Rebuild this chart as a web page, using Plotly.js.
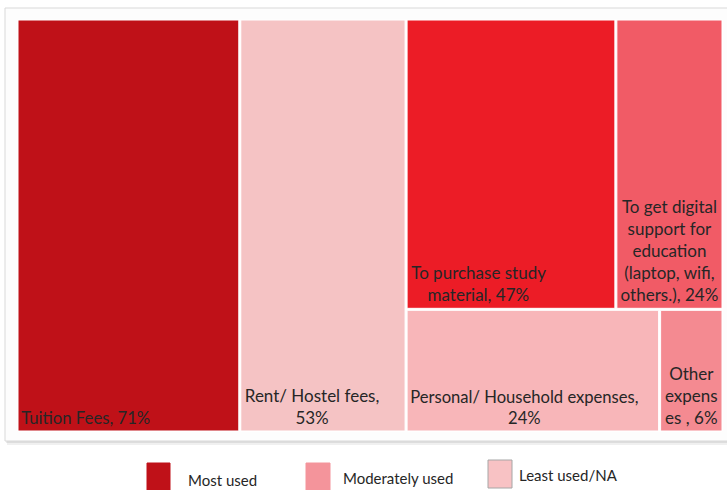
<!DOCTYPE html>
<html>
<head>
<meta charset="utf-8">
<script src="https://cdn.plot.ly/plotly-3.0.1.min.js"></script>
<style>html,body{margin:0;padding:0;background:#fff;}#chart{width:727px;height:490px;}</style>
</head>
<body>
<div id="chart"></div>
<script>
// Leaf categories (label text as shown) and their values (% of respondents)
const NB = n => "&nbsp;".repeat(n);
const categories = [
  "Tuition Fees, 71%" + NB(20),
  "Rent/ Hostel fees," + NB(5) + "<br>53%" + NB(5),
  "To purchase study" + NB(15) + "<br>material, 47%" + NB(15),
  "To get digital<br>support for<br>education<br>(laptop, wifi,<br>others.), 24%",
  "Personal/ Household expenses," + NB(4) + "<br>24%" + NB(4),
  "Other<br>expens<br>es , 6%"
];
const values = [71, 53, 47, 24, 24, 6];
const usage = ["Most used", "Least used/NA", "Most used", "Moderately used", "Least used/NA", "Moderately used"];
// Grouping used by the tiling (which block each leaf sits in)
const groupOf = ["root", "root", "topRow", "topRow", "bottomRow", "bottomRow"];
const legendNames = ["Most used", "Moderately used", "Least used/NA"];

const leafColors = ["#BF1118", "#F5C3C4", "#EC1C26", "#F15B66", "#F8B6B9", "#F48A91"];
const legendColors = ["#BF1118", "#F4949B", "#F8C2C4"];

const FONT = "Lato, 'Open Sans', sans-serif";

const ids = ["root", "right", "topRow", "bottomRow"];
const parents = ["", "root", "right", "right"];
const vals = [0, 0, 0, 0];
const texts = ["", "", "", ""];
const colors = ["#ffffff", "#ffffff", "#ffffff", "#ffffff"];
categories.forEach((c, i) => {
  ids.push("leaf" + i);
  parents.push(groupOf[i]);
  vals.push(values[i]);
  texts.push(c);
  colors.push(leafColors[i]);
});
// order so root children are Tuition, Rent, right block
const finalIds = ["root", "leaf0", "leaf1", "right", "topRow", "leaf2", "leaf3", "bottomRow", "leaf4", "leaf5"];
const idx = finalIds.map(id => ids.indexOf(id));

const trace = {
  type: "treemap",
  ids: idx.map(i => ids[i]),
  labels: idx.map(i => ids[i]),
  parents: idx.map(i => parents[i]),
  values: idx.map(i => vals[i]),
  text: idx.map(i => texts[i]),
  branchvalues: "remainder",
  sort: false,
  texttemplate: "%{text}",
  textinfo: "text",
  textposition: "bottom center",
  hoverinfo: "skip",
  tiling: {packing: "slice-dice", pad: 2},
  marker: {
    colors: idx.map(i => colors[i]),
    line: {color: "#ffffff", width: 1},
    pad: {t: 0, l: 0, r: 0, b: 0}
  },
  pathbar: {visible: false},
  insidetextfont: {family: FONT, size: 17, color: "#262626"},
  textfont: {family: FONT, size: 17, color: "#262626"},
  domain: {x: [18/727, 722/727], y: [1 - 431/490, 1 - 20/490]}
};

const W = 727, H = 490;
const px = x => x / W, py = y => 1 - y / H;

const shapes = [
  {type: "rect", xref: "paper", yref: "paper", x0: px(7), x1: px(730), y0: py(445), y1: py(10), line: {width: 0}, fillcolor: "rgba(0,0,0,0.06)", layer: "below"},
  {type: "rect", xref: "paper", yref: "paper", x0: px(6), x1: px(730), y0: py(443), y1: py(9), line: {width: 0}, fillcolor: "rgba(0,0,0,0.08)", layer: "below"},
  {type: "rect", xref: "paper", yref: "paper", x0: px(5), x1: px(730), y0: py(441), y1: py(8), line: {color: "#d9d9d9", width: 1}, fillcolor: "#fdfdfd", layer: "below"}
];
const legendBoxes = [[147, 463, 170, 491], [306, 463, 330, 491], [488, 460, 512, 488]];
const legendText = [[186, 480], [341, 478], [517, 475]];
const annotations = [];
legendNames.forEach((n, i) => {
  const b = legendBoxes[i];
  shapes.push({type: "rect", xref: "paper", yref: "paper", x0: px(b[0]), x1: px(b[2]), y0: py(b[3]), y1: py(b[1]),
    line: {color: i === 2 ? "#a6a6a6" : legendColors[i], width: 1}, fillcolor: legendColors[i]});
  annotations.push({xref: "paper", yref: "paper", x: px(legendText[i][0]), y: py(legendText[i][1]), xanchor: "left", yanchor: "middle",
    text: n, showarrow: false, font: {family: FONT, size: 15, color: "#262626"}});
});

Plotly.newPlot("chart", [trace], {
  width: W, height: H,
  margin: {l: 0, r: 0, t: 0, b: 0},
  paper_bgcolor: "#ffffff",
  shapes: shapes,
  annotations: annotations,
  showlegend: false
}, {displayModeBar: false, staticPlot: true});
</script>
</body>
</html>
